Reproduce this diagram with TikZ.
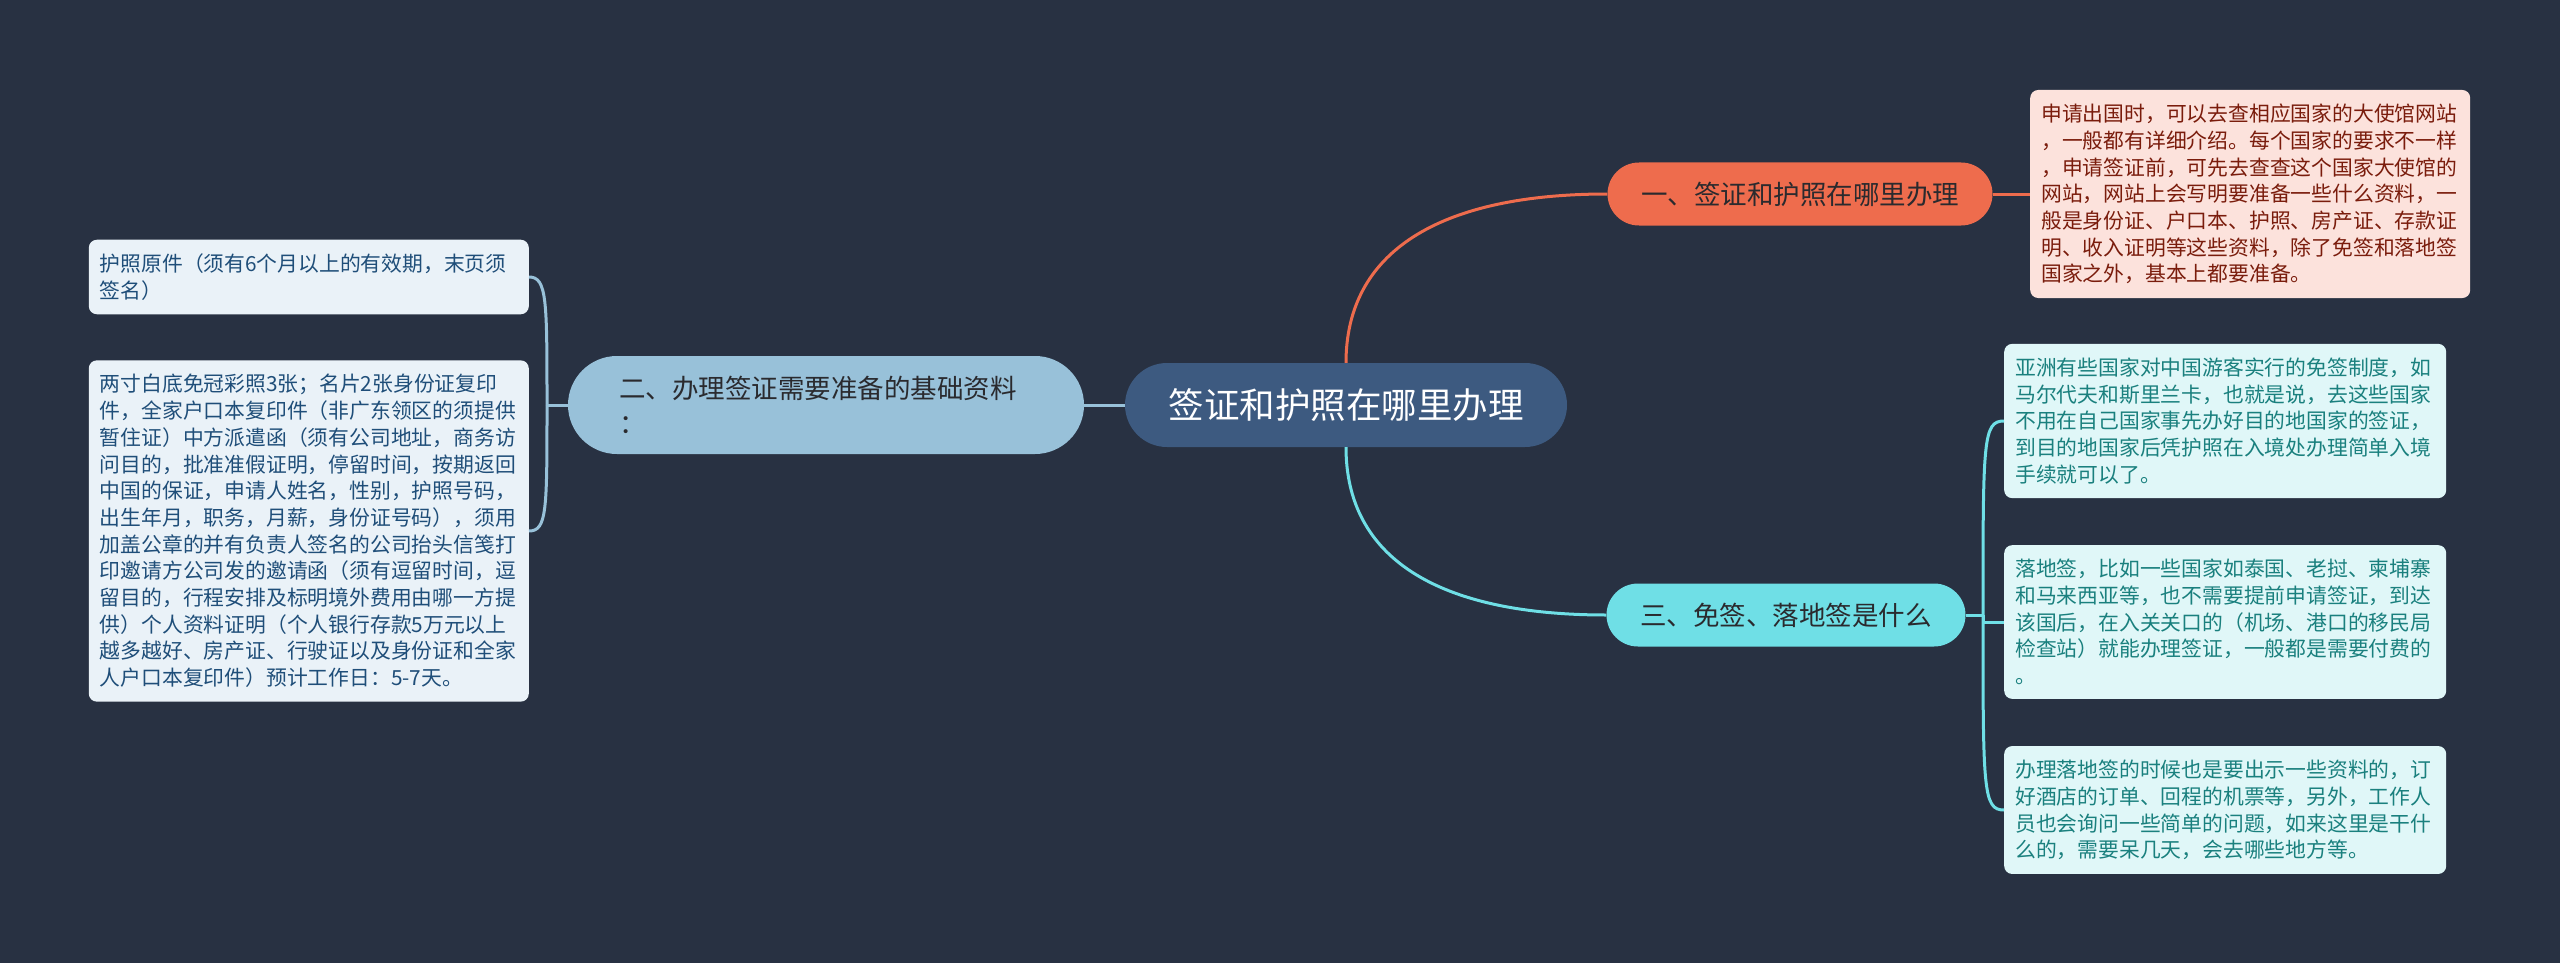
\documentclass[tikz,border=0pt]{standalone}
\usepackage{fontspec}
\setmainfont{Noto Sans CJK SC}
\usepackage{tikz}
\usetikzlibrary{positioning}
\usepackage{xcolor}
\definecolor{bgcol}{HTML}{283142}
\definecolor{rootfill}{HTML}{3D5A80}
\definecolor{orangefill}{HTML}{EE6C4D}
\definecolor{bluefill}{HTML}{98C1D9}
\definecolor{cyanfill}{HTML}{6FDFE6}
\definecolor{topictext}{HTML}{2A2A2E}
\definecolor{pinkleaf}{HTML}{FCE2DC}
\definecolor{pinktext}{HTML}{7A1C0C}
\definecolor{blueleaf}{HTML}{EAF2F8}
\definecolor{bluetext}{HTML}{1F4E79}
\definecolor{cyanleaf}{HTML}{E0F7F8}
\definecolor{cyantext}{HTML}{1A807E}

\begin{document}
\begin{tikzpicture}[x=1pt,y=-1pt,
  rootbox/.style={fill=rootfill,rounded corners=42pt,minimum width=442pt,minimum height=84pt,text=white,font=\fontsize{35.5}{40}\selectfont},
  topicbox/.style={rounded corners=31.5pt,minimum height=63pt,inner xsep=0pt,text=topictext,font=\fontsize{26.5}{35}\selectfont},
  leafbox/.style={rounded corners=8pt,text width=418pt,inner xsep=11pt,inner ysep=14pt,align=left,font=\fontsize{20.8}{26.7}\selectfont},
  link/.style={line width=3pt}]
\useasboundingbox (0,0) rectangle (2560,963);
\fill[bgcol] (0,0) rectangle (2560,963);

% centre and main topics
\node[rootbox] (root) at (1346,405) {签证和护照在哪里办理};
\node[topicbox,fill=orangefill,minimum width=385pt] (visa) at (1800,194) {一、签证和护照在哪里办理};
\node[topicbox,fill=bluefill,minimum width=516pt,minimum height=98pt,rounded corners=49pt,text width=414pt,align=left] (docs) at (826,405) {二、办理签证需要准备的基础资料\\：};
\node[topicbox,fill=cyanfill,minimum width=359pt] (free) at (1786,615) {三、免签、落地签是什么};

% leaves
\node[leafbox,fill=pinkleaf,text=pinktext,anchor=west] (tip) at (2030,194) {申请出国时，可以去查相应国家的大使馆网站\\，一般都有详细介绍。每个国家的要求不一样\\，申请签证前，可先去查查这个国家大使馆的\\网站，网站上会写明要准备一些什么资料，一\\般是身份证、户口本、护照、房产证、存款证\\明、收入证明等这些资料，除了免签和落地签\\国家之外，基本上都要准备。};
\node[leafbox,fill=blueleaf,text=bluetext,anchor=east] (orig) at (529,277) {护照原件（须有6个月以上的有效期，末页须\\签名）};
\node[leafbox,fill=blueleaf,text=bluetext,anchor=east] (photo) at (529,531) {两寸白底免冠彩照3张；名片2张身份证复印\\件，全家户口本复印件（非广东领区的须提供\\暂住证）中方派遣函（须有公司地址，商务访\\问目的，批准准假证明，停留时间，按期返回\\中国的保证，申请人姓名，性别，护照号码，\\出生年月，职务，月薪，身份证号码），须用\\加盖公章的并有负责人签名的公司抬头信笺打\\印邀请方公司发的邀请函（须有逗留时间，逗\\留目的，行程安排及标明境外费用由哪一方提\\供）个人资料证明（个人银行存款5万元以上\\越多越好、房产证、行驶证以及身份证和全家\\人户口本复印件）预计工作日：5-7天。};
\node[leafbox,fill=cyanleaf,text=cyantext,text width=420pt,anchor=west] (asia) at (2004,421) {亚洲有些国家对中国游客实行的免签制度，如\\马尔代夫和斯里兰卡，也就是说，去这些国家\\不用在自己国家事先办好目的地国家的签证，\\到目的地国家后凭护照在入境处办理简单入境\\手续就可以了。};
\node[leafbox,fill=cyanleaf,text=cyantext,text width=420pt,anchor=west] (arrival) at (2004,622) {落地签，比如一些国家如泰国、老挝、柬埔寨\\和马来西亚等，也不需要提前申请签证，到达\\该国后，在入关关口的（机场、港口的移民局\\检查站）就能办理签证，一般都是需要付费的\\。};
\node[leafbox,fill=cyanleaf,text=cyantext,text width=420pt,anchor=west] (papers) at (2004,810) {办理落地签的时候也是要出示一些资料的，订\\好酒店的订单、回程的机票等，另外，工作人\\员也会询问一些简单的问题，如来这里是干什\\么的，需要呆几天，会去哪些地方等。};

\coordinate (docsjoin) at (547,405);
\coordinate (freejoin) at (1983,615);

% connectors
\draw[link,orangefill] (root.north) .. controls +(0,-110) and +(-170,0) .. (visa.west);
\draw[link,cyanfill] (root.south) .. controls +(0,110) and +(-170,0) .. (free.west);
\draw[link,bluefill] (root.west) -- (docs.east);
\draw[link,orangefill] (visa.east) -- (tip.west);
\draw[link,bluefill] (docs.west) -- (docsjoin);
\draw[link,bluefill] (docsjoin) .. controls +(0,-105) and +(18,0) .. (orig.east);
\draw[link,bluefill] (docsjoin) .. controls +(0,105) and +(18,0) .. (photo.east);
\draw[link,cyanfill] (free.east) -- (freejoin);
\draw[link,cyanfill] (freejoin) .. controls +(0,-175) and +(-21,0) .. (asia.west);
\draw[link,cyanfill] (freejoin) |- (arrival.west);
\draw[link,cyanfill] (freejoin) .. controls +(0,175) and +(-21,0) .. (papers.west);
\end{tikzpicture}
\end{document}
